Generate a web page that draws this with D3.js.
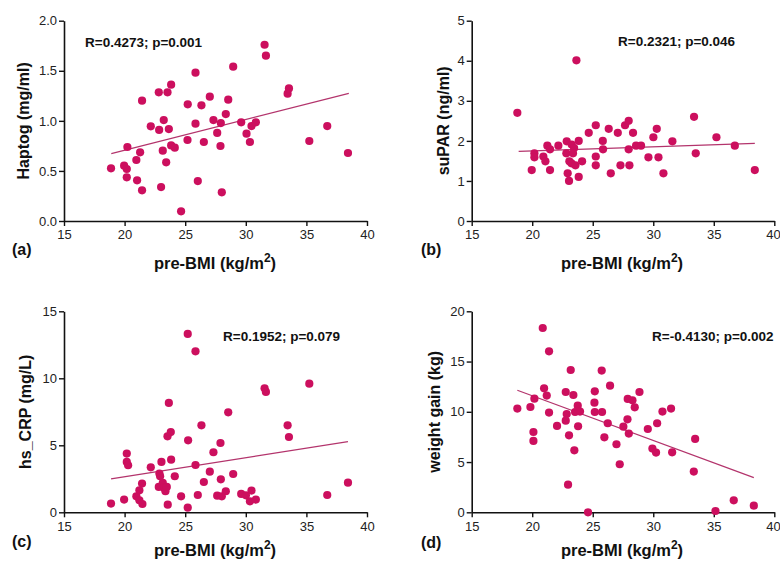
<!DOCTYPE html>
<html>
<head>
<meta charset="utf-8">
<script src="https://cdn.jsdelivr.net/npm/d3@7"></script>
<style>
  body { margin: 0; background: #fff; }
  svg { font-family: Arial, "Liberation Sans", sans-serif; }
</style>
</head>
<body>
<script>
const WIDTH = 780;
const HEIGHT = 566;
const DOT = "#cc0f5e";
const FIT = "#b3346c";

// shared x ticks
const xTicks = [15, 20, 25, 30, 35, 40];

// (a) Haptog
const bmiA = [18.88,20.23,19.96,20.18,20.18,20.97,21.28,21.03,21.44,21.44,22.16,22.82,22.85,23.23,23.15,23.01,23.43,23.54,23.65,23.84,23.84,24.14,24.66,25.21,25.19,25.85,25.85,26.04,26.34,26.54,27.03,27.33,27.64,27.94,27.91,28.02,28.35,28.55,28.96,29.62,30.06,30.34,30.47,30.83,31.55,31.66,33.45,33.56,35.24,36.72,38.43];
const haptog = [0.526,0.739,0.552,0.519,0.436,0.609,0.686,0.406,0.306,1.201,0.945,1.285,0.909,1.008,0.702,0.339,0.586,1.285,0.918,1.361,0.755,0.732,0.097,1.165,0.809,1.481,0.972,0.399,1.155,0.789,1.241,1.008,0.879,0.978,0.749,0.286,1.068,1.211,1.541,0.985,0.872,0.789,0.948,0.985,1.760,1.651,1.271,1.324,0.799,0.948,0.679];
const fitA = [[18.9, 0.672], [38.5, 1.275]];
const yTicksA = [0, 0.5, 1.0, 1.5, 2.0];

// (b) suPAR
const bmiB = [18.77,19.96,20.18,20.18,20.92,21.09,21.25,21.47,21.47,22.16,22.85,22.82,22.93,23.07,23.04,23.26,23.46,23.37,23.24,23.57,23.65,23.84,23.84,24.12,24.67,25.25,25.25,25.25,25.83,25.85,26.32,26.49,27.07,27.29,27.67,27.97,27.97,28.03,28.33,28.58,28.99,29.60,30.01,30.29,30.43,30.84,31.58,33.37,33.51,35.22,36.74,38.39];
const supar = [2.70,1.27,1.69,1.59,1.61,1.49,1.88,1.79,1.27,1.88,1.99,1.69,1.19,1.49,1.00,1.91,1.82,1.69,1.44,1.39,4.01,2.00,1.10,1.49,2.20,2.39,1.61,1.39,2.00,1.79,2.30,1.19,2.20,1.39,2.39,2.50,1.79,1.39,2.20,1.88,1.88,1.59,2.09,2.30,1.59,1.19,1.99,2.60,1.69,2.09,1.88,1.27];
const fitB = [[18.88, 1.74], [38.39, 1.94]];
const yTicksB = [0, 1, 2, 3, 4, 5];

// (c) hs_CRP
const bmiC = [18.88,19.96,20.18,20.18,20.29,20.97,21.22,21.22,21.44,21.47,22.16,22.87,22.93,23.04,22.82,23.15,23.26,23.37,23.48,23.56,23.54,23.65,23.81,23.84,24.14,24.66,25.21,25.24,25.21,25.85,25.85,26.04,26.34,26.54,27.03,27.33,27.64,27.91,27.94,28.02,28.35,28.55,28.96,29.62,30.01,30.34,30.47,30.83,31.55,31.66,33.45,33.56,35.24,36.72,38.43];
const crp = [0.65,0.95,4.38,3.76,3.51,1.19,1.64,0.90,2.14,0.62,3.36,2.89,2.69,3.76,1.89,2.19,1.82,1.57,1.89,0.57,5.67,8.16,5.99,3.93,2.69,1.19,13.31,5.37,0.35,12.01,3.53,1.29,6.49,2.26,3.03,4.48,1.24,5.17,2.46,1.19,1.57,7.46,2.86,1.37,1.27,0.82,1.62,0.95,9.25,8.98,6.49,5.62,9.60,1.29,2.21];
const fitC = [[18.88, 2.49], [38.43, 5.27]];
const yTicksC = [0, 5, 10, 15];

// (d) weight gain
const bmiD = [18.77,19.85,20.10,20.10,20.18,20.87,20.98,21.20,21.39,21.39,22.05,22.77,22.85,22.77,23.04,22.96,23.18,23.40,23.48,23.54,23.76,23.79,23.95,24.61,25.17,25.14,25.17,25.77,25.74,25.96,26.24,26.43,26.96,27.23,27.53,27.89,27.87,27.98,28.28,28.47,28.86,29.55,29.93,30.23,30.32,30.76,31.47,31.56,33.35,33.46,35.14,36.65,38.31];
const gain = [10.32,10.48,7.99,7.10,11.31,18.34,12.34,11.61,16.02,9.92,8.59,11.97,9.78,9.12,7.66,2.75,14.16,11.67,6.17,9.98,10.61,8.56,10.02,0.0,12.04,10.91,9.98,9.98,14.10,7.46,8.86,12.60,6.77,4.78,8.52,11.28,9.25,7.83,11.14,10.45,11.97,8.29,6.34,5.94,8.86,10.02,10.32,5.97,4.05,7.30,0.13,1.19,0.66];
const fitD = [[18.77, 12.14], [38.31, 3.45]];
const yTicksD = [0, 5, 10, 15, 20];

const panels = [
  { xs: bmiA, ys: haptog, fit: fitA, yTicks: yTicksA, fmt: d3.format(".1f"), yTitle: "Haptog (mg/ml)", stat: "R=0.4273; p=0.001", tag: "(a)",
    left: 64, right: 367, top: 20.7, bottom: 221, statX: 85, statY: 47, yTitleX: 23, xTitleX: 215, xTitleY: 269, tagY: 255 },
  { xs: bmiB, ys: supar, fit: fitB, yTicks: yTicksB, fmt: d3.format("d"), yTitle: "suPAR (ng/ml)", stat: "R=0.2321; p=0.046", tag: "(b)",
    left: 471.7, right: 774.3, top: 20.7, bottom: 221, statX: 618, statY: 46, yTitleX: 443, xTitleX: 622, xTitleY: 269, tagY: 255 },
  { xs: bmiC, ys: crp, fit: fitC, yTicks: yTicksC, fmt: d3.format("d"), yTitle: "hs_CRP (mg/L)", stat: "R=0.1952; p=0.079", tag: "(c)",
    left: 64, right: 367, top: 311.3, bottom: 512.3, statX: 223, statY: 341, yTitleX: 25, xTitleX: 215, xTitleY: 556, tagY: 547 },
  { xs: bmiD, ys: gain, fit: fitD, yTicks: yTicksD, fmt: d3.format("d"), yTitle: "weight gain (kg)", stat: "R=-0.4130; p=0.002", tag: "(d)",
    left: 471.7, right: 774.3, top: 311.3, bottom: 512.3, statX: 652, statY: 341, yTitleX: 434, xTitleX: 622, xTitleY: 556, tagY: 548 }
];

const svg = d3.select("body").append("svg")
    .attr("width", WIDTH)
    .attr("height", HEIGHT);

drawPanel = (p) => {
  let g = svg.append("g");

  let x = d3.scaleLinear().domain([15, 40]).range([p.left, p.right]);
  let y = d3.scaleLinear().domain(d3.extent(p.yTicks)).range([p.bottom, p.top]);

  // axes
  let xAxis = g.append("g")
      .attr("transform", "translate(0," + p.bottom + ")")
      .call(d3.axisBottom(x).tickValues(xTicks).tickSize(5).tickSizeOuter(0).tickPadding(4));
  let yAxis = g.append("g")
      .attr("transform", "translate(" + p.left + ",0)")
      .call(d3.axisLeft(y).tickValues(p.yTicks).tickFormat(p.fmt).tickSize(5).tickSizeOuter(0).tickPadding(2));

  [xAxis, yAxis].forEach(a => {
    a.select(".domain").attr("stroke", "#111").attr("stroke-width", 1.6);
    a.selectAll(".tick line").attr("stroke", "#111").attr("stroke-width", 1.4);
    a.selectAll(".tick text").attr("fill", "#222").style("font-size", "13px").style("font-family", "Arial, 'Liberation Sans', sans-serif");
  });
  // last x label sits at the right edge, keep it inside the page
  if (p.right > 770) xAxis.selectAll(".tick:last-of-type text").attr("text-anchor", "end").attr("dx", "6px");

  // fit line
  g.append("path")
      .datum(p.fit)
      .attr("fill", "none")
      .attr("stroke", FIT)
      .attr("stroke-width", 1.2)
      .attr("d", d3.line().x(d => x(d[0])).y(d => y(d[1])));

  // points
  g.selectAll("circle.pt")
      .data(d3.zip(p.xs, p.ys))
      .join("circle")
      .attr("class", "pt")
      .attr("cx", d => x(d[0]))
      .attr("cy", d => y(d[1]))
      .attr("r", 4.1)
      .attr("fill", DOT);

  // stat text
  g.append("text")
      .attr("x", p.statX).attr("y", p.statY)
      .attr("font-size", 13.5).attr("font-weight", "bold").attr("fill", "#111")
      .text(p.stat);

  // y title
  g.append("text")
      .attr("transform", "translate(" + p.yTitleX + "," + ((p.top + p.bottom) / 2) + ") rotate(-90)")
      .attr("text-anchor", "middle").attr("dy", "0.35em")
      .attr("font-size", 16).attr("font-weight", "bold").attr("fill", "#111")
      .text(p.yTitle);

  // x title with superscript
  let xt = g.append("text")
      .attr("x", p.xTitleX).attr("y", p.xTitleY)
      .attr("text-anchor", "middle")
      .attr("font-size", 16.5).attr("font-weight", "bold").attr("fill", "#111");
  xt.append("tspan").text("pre-BMI (kg/m");
  xt.append("tspan").attr("dy", -7).attr("font-size", 12).text("2");
  xt.append("tspan").attr("dy", 7).text(")");

  // panel tag
  g.append("text")
      .attr("x", p.left === 64 ? 12 : 421).attr("y", p.tagY)
      .attr("font-size", 16).attr("font-weight", "bold").attr("fill", "#111")
      .text(p.tag);
}

panels.forEach(p => drawPanel(p));
</script>
</body>
</html>
